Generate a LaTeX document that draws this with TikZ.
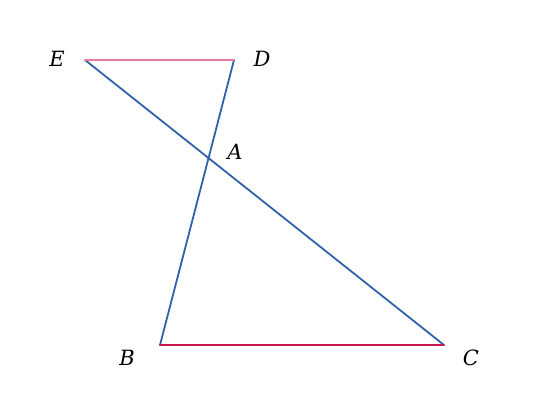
\documentclass[tikz,border=0pt]{standalone}
\usepackage{fontspec}
\setmainfont{DejaVu Serif}
\usepackage{tikz}
\usetikzlibrary{calc, intersections}

\definecolor{segblue}{HTML}{2F62A8}
\definecolor{segpink}{HTML}{E8799F}
\definecolor{segred}{HTML}{C8174F}

\begin{document}
\begin{tikzpicture}[
    x=1pt, y=-1pt,
    lbl/.style={font=\fontsize{21}{24}\selectfont\itshape},
    seg/.style={line width=1.8pt, line cap=round}
]
\useasboundingbox (0,0) rectangle (540,411);

% Points
\coordinate (E) at (85, 60);
\coordinate (D) at (234, 60);
\coordinate (B) at (160, 345);
\coordinate (C) at (444, 345);

% Crossing lines
\draw[seg, segblue, name path=ec] (E) -- (C);
\draw[seg, segblue, name path=db] (D) -- (B);
\path[name intersections={of=ec and db, by=A}];

% Parallel sides
\draw[seg, segpink] (E) -- (D);
\draw[seg, segred] (B) -- (C);

% Labels
\node[lbl] (labE) at (57, 59) {E};
\node[lbl] (labD) at (262, 59) {D};
\node[lbl] (labA) at (235, 152) {A};
\node[lbl] (labB) at (127, 358) {B};
\node[lbl] (labC) at (471, 358) {C};

\end{tikzpicture}
\end{document}
